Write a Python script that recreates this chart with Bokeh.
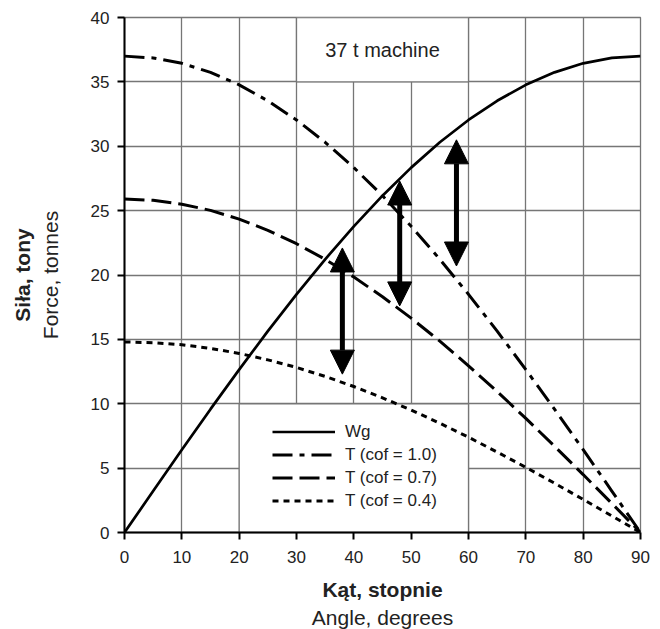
from bokeh.plotting import figure
from bokeh.models import (Range1d, FixedTicker, Legend, LegendItem, Label, Title,
                          Arrow, NormalHead, ColumnDataSource)
from bokeh.embed import file_html
from bokeh.resources import INLINE

# ---- data ----
angle = [0, 5, 10, 15, 20, 25, 30, 35, 40, 45, 50, 55, 60, 65, 70, 75, 80, 85, 90]
wg = [0, 3.22, 6.43, 9.58, 12.65, 15.64, 18.5, 21.22, 23.78, 26.16, 28.34,
      30.31, 32.04, 33.53, 34.77, 35.74, 36.44, 36.86, 37.0]
t_cof10 = [37.0, 36.86, 36.44, 35.74, 34.77, 33.53, 32.04, 30.31, 28.34, 26.16,
           23.78, 21.22, 18.5, 15.64, 12.65, 9.58, 6.43, 3.22, 0]
t_cof07 = [25.9, 25.8, 25.5, 25.02, 24.34, 23.47, 22.43, 21.22, 19.84, 18.31,
           16.65, 14.86, 12.95, 10.95, 8.86, 6.7, 4.5, 2.26, 0]
t_cof04 = [14.8, 14.74, 14.58, 14.3, 13.91, 13.41, 12.82, 12.12, 11.34, 10.46,
           9.51, 8.49, 7.4, 6.25, 5.06, 3.83, 2.57, 1.29, 0]

arrow_x = [38.0, 48.0, 57.9]
arrow_low = [12.3, 17.6, 20.7]
arrow_high = [22.1, 27.3, 30.5]

x_ticks = [0, 10, 20, 30, 40, 50, 60, 70, 80, 90]
y_ticks = [0, 5, 10, 15, 20, 25, 30, 35, 40]

series_names = ["Wg", "T (cof = 1.0)", "T (cof = 0.7)", "T (cof = 0.4)"]
title_text = "37 t machine"
x_title_pl, x_title_en = "Kąt, stopnie", "Angle, degrees"
y_title_pl, y_title_en = "Siła, tony", "Force, tonnes"

FONT = "Liberation Sans"
GRID = "#767676"
TXT = "#222222"

p = figure(width=660, height=629, output_backend="svg", toolbar_location=None,
           x_range=Range1d(0, 90), y_range=Range1d(0, 40),
           min_border_left=124, min_border_right=20,
           min_border_top=17, min_border_bottom=97)
p.background_fill_color = "white"
p.border_fill_color = "white"
p.outline_line_color = GRID
p.outline_line_width = 1.3

for ax, ticks in ((p.xaxis, x_ticks), (p.yaxis, y_ticks)):
    ax.ticker = FixedTicker(ticks=ticks)
    ax.axis_line_color = "black"
    ax.axis_line_width = 2
    ax.major_tick_line_color = "black"
    ax.major_tick_line_width = 2
    ax.major_tick_in = 0
    ax.major_tick_out = 7
    ax.minor_tick_line_color = None
    ax.major_label_text_font = FONT
    ax.major_label_text_font_size = "17px"
    ax.major_label_text_color = TXT
    ax.major_label_standoff = 8
    ax.axis_label_text_font = FONT
    ax.axis_label_text_font_size = "21px"
    ax.axis_label_text_color = TXT

p.xaxis.major_label_standoff = 11
p.xaxis.axis_label = x_title_pl
p.xaxis.axis_label_text_font_style = "bold"
p.xaxis.axis_label_standoff = 12
p.yaxis.axis_label = y_title_en
p.yaxis.axis_label_text_font_style = "normal"
p.yaxis.axis_label_standoff = 26

p.add_layout(Title(text=x_title_en, align="center", text_font=FONT,
                   text_font_size="21px", text_font_style="normal",
                   text_color=TXT, standoff=1), "below")
p.add_layout(Title(text=y_title_pl, align="center", text_font=FONT,
                   text_font_size="21px", text_font_style="bold",
                   text_color=TXT, standoff=4), "left")

p.grid.grid_line_color = GRID
p.grid.grid_line_width = 1.3
p.xgrid.ticker = FixedTicker(ticks=x_ticks)
p.ygrid.ticker = FixedTicker(ticks=y_ticks)

# white boxes (title box and legend box) covering the grid
p.quad(left=[30, 20], right=[60, 60], bottom=[35, 0], top=[40, 10],
       fill_color="white", line_color=GRID, line_width=1.3)

r_wg = p.line(angle, wg, line_color="black", line_width=2.7)
r_10 = p.line(angle, t_cof10, line_color="black", line_width=3, line_dash="20 7 5 7")
r_07 = p.line(angle, t_cof07, line_color="black", line_width=3, line_dash="20 7")
r_04 = p.line(angle, t_cof04, line_color="black", line_width=3, line_dash="6 5")

legend = Legend(items=[LegendItem(label=n, renderers=[r]) for n, r in
                       zip(series_names, [r_wg, r_10, r_07, r_04])],
                location=(148, 20), background_fill_alpha=0, border_line_color=None,
                padding=0, margin=0, spacing=0, glyph_width=63, glyph_height=23,
                label_height=23, label_standoff=10, label_text_font=FONT,
                label_text_font_size="17px", label_text_color=TXT)
p.add_layout(legend, "center")

src = ColumnDataSource(dict(x=arrow_x, y0=arrow_low, y1=arrow_high))
p.add_layout(Arrow(x_start="x", y_start="y0", x_end="x", y_end="y1", source=src,
                   line_width=5, line_color="black",
                   start=NormalHead(size=24, fill_color="black", line_color="black"),
                   end=NormalHead(size=24, fill_color="black", line_color="black")))

p.add_layout(Label(x=45, y=37.45, text=title_text, text_align="center",
                   text_baseline="middle", text_font=FONT, text_font_size="20px",
                   text_color=TXT))

open("out.html", "w").write(file_html(p, INLINE))
